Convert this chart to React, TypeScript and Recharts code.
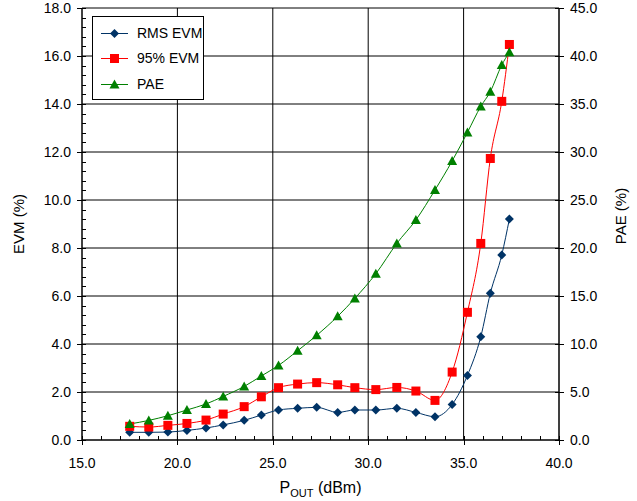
import React from "react";
import {
    LineChart,
    Line,
    XAxis,
    YAxis,
    CartesianGrid,
    Legend
} from "recharts";

// output power (dBm), same points for all three curves
const pout = [17.5, 18.5, 19.5, 20.5, 21.5, 22.4, 23.5, 24.4, 25.3, 26.3, 27.3, 28.4, 29.3, 30.4, 31.5, 32.5, 33.5, 34.4, 35.2, 35.9, 36.4, 37.0, 37.4];
const rmsEvm = [0.32, 0.32, 0.33, 0.40, 0.50, 0.63, 0.82, 1.04, 1.25, 1.32, 1.36, 1.15, 1.25, 1.25, 1.32, 1.15, 0.97, 1.48, 2.69, 4.30, 6.11, 7.71, 9.21];
const evm95 = [0.57, 0.54, 0.61, 0.69, 0.83, 1.08, 1.39, 1.80, 2.18, 2.33, 2.39, 2.30, 2.18, 2.10, 2.19, 2.04, 1.65, 2.83, 5.32, 8.19, 11.73, 14.11, 16.48];
const pae = [1.67, 2.04, 2.53, 3.13, 3.75, 4.54, 5.58, 6.67, 7.77, 9.30, 10.90, 12.88, 14.75, 17.32, 20.48, 22.92, 26.04, 29.06, 32.04, 34.75, 36.28, 39.06, 40.38];

const xMajor = [15, 20, 25, 30, 35, 40];
const evmMajor = [0, 2, 4, 6, 8, 10, 12, 14, 16, 18];
const paeTicks = [0, 5, 10, 15, 20, 25, 30, 35, 40, 45];
const seriesOrder = ["rms", "evm95", "pae"];

// minor ticks: 1 dBm on x, 0.4 % on the EVM axis
const xTicks = Array.from({ length: 26 }, (_, i) => 15 + i);
const evmTicks = Array.from({ length: 46 }, (_, i) => Math.round(i * 4) / 10);

const NAVY = "#003366";
const RED = "#ff0000";
const GREEN = "#008000";
const FONT = "'Liberation Sans', Arial, sans-serif";

const data = pout.map((p, i) => ({
    pout: p,
    rms: rmsEvm[i],
    evm95: evm95[i],
    pae: pae[i]
}));

const isOn = (v: number, list: number[]) => list.some((m) => Math.abs(m - v) < 1e-6);

function Marker({ cx, cy, shape, color }: { cx: number; cy: number; shape: string; color: string }) {
    if (cx == null || cy == null) return null;
    if (shape === "diamond") {
        return <path d={`M${cx},${cy - 4.5}L${cx + 4.5},${cy}L${cx},${cy + 4.5}L${cx - 4.5},${cy}Z`} fill={color} />;
    }
    if (shape === "square") {
        return <rect x={cx - 4.5} y={cy - 4.5} width={9} height={9} fill={color} />;
    }
    return <path d={`M${cx},${cy - 5}L${cx + 5},${cy + 4}L${cx - 5},${cy + 4}Z`} fill={color} />;
}

const shapes: Record<string, string> = { rms: "diamond", evm95: "square", pae: "triangle" };

function XTick(props: any) {
    const { x, y, payload } = props;
    const v = payload.value;
    const px = Math.round(x) + 0.5;
    if (!isOn(v, xMajor)) {
        return <line x1={px} y1={y} x2={px} y2={y - 4} stroke="#000" strokeWidth={1} />;
    }
    return (
        <g>
            <line x1={px} y1={y - 4} x2={px} y2={y + 5} stroke="#000" strokeWidth={1} />
            <text x={x} y={y + 28} textAnchor="middle" fontSize={14} fontFamily={FONT} fill="#000">
                {v.toFixed(1)}
            </text>
        </g>
    );
}

function EvmTick(props: any) {
    const { x, y, payload } = props;
    const v = payload.value;
    const py = Math.round(y) + 0.5;
    if (!isOn(v, evmMajor)) {
        return <line x1={x} y1={py} x2={x + 4} y2={py} stroke="#000" strokeWidth={1} />;
    }
    return (
        <g>
            <line x1={x - 5} y1={py} x2={x + 4} y2={py} stroke="#000" strokeWidth={1} />
            <text x={x - 11} y={y + 5} textAnchor="end" fontSize={14} fontFamily={FONT} fill="#000">
                {v.toFixed(1)}
            </text>
        </g>
    );
}

function PaeTick(props: any) {
    const { x, y, payload } = props;
    const py = Math.round(y) + 0.5;
    return (
        <g>
            <line x1={x - 4} y1={py} x2={x + 5} y2={py} stroke="#000" strokeWidth={1} />
            <text x={x + 11} y={y + 5} textAnchor="start" fontSize={14} fontFamily={FONT} fill="#000">
                {payload.value.toFixed(1)}
            </text>
        </g>
    );
}

function XTitle(props: any) {
    const { x, y, width } = props.viewBox;
    return (
        <text x={x + width / 2} y={y + 53} textAnchor="middle" fontSize={16} fontFamily={FONT} fill="#000">
            P<tspan fontSize={11} dy={4}>OUT</tspan>
            <tspan dy={-4}> (dBm)</tspan>
        </text>
    );
}

function EvmTitle(props: any) {
    const { x, y, height } = props.viewBox;
    const cx = x - 4;
    const cy = y + height / 2;
    return (
        <text x={cx} y={cy} transform={`rotate(-90 ${cx} ${cy})`} textAnchor="middle" dominantBaseline="central" fontSize={15} fontFamily={FONT} fill="#000">
            EVM (%)
        </text>
    );
}

function PaeTitle(props: any) {
    const { x, y, height } = props.viewBox;
    const cx = x + 61;
    const cy = y + height / 2 - 8;
    return (
        <text x={cx} y={cy} transform={`rotate(-90 ${cx} ${cy})`} textAnchor="middle" dominantBaseline="central" fontSize={15} fontFamily={FONT} fill="#000">
            PAE (%)
        </text>
    );
}

function LegendBox(props: any) {
    const items = [...(props.payload || [])].sort(
        (a: any, b: any) => seriesOrder.indexOf(a.dataKey) - seriesOrder.indexOf(b.dataKey)
    );
    return (
        <div style={{ border: "1px solid #000", background: "#fff", width: 110, height: 79, paddingTop: 3, boxSizing: "content-box" }}>
            {items.map((entry: any) => (
                <div key={entry.value} style={{ display: "flex", alignItems: "center", height: 25.5 }}>
                    <svg width={38} height={14} style={{ marginLeft: 6 }}>
                        <line x1={2} y1={7.5} x2={29} y2={7.5} stroke={entry.color} />
                        <Marker cx={15.5} cy={7.5} shape={shapes[entry.dataKey]} color={entry.color} />
                    </svg>
                    <span style={{ fontFamily: FONT, fontSize: 14, color: "#000" }}>{entry.value}</span>
                </div>
            ))}
        </div>
    );
}

export default function App() {
    return (
        <div style={{ position: "absolute", left: 0, top: 0, background: "#fff" }}>
            <LineChart width={637} height={501} data={data} margin={{ top: 8, right: 18, left: 22, bottom: 11 }}>
                <CartesianGrid
                    yAxisId="evm"
                    stroke="#000"
                    strokeWidth={1}
                    horizontalValues={evmMajor}
                    verticalValues={xMajor}
                />
                <XAxis
                    dataKey="pout"
                    type="number"
                    domain={[15, 40]}
                    ticks={xTicks}
                    interval={0}
                    height={50}
                    tickSize={0}
                    tickMargin={0}
                    tickLine={false}
                    axisLine={{ stroke: "#000" }}
                    tick={<XTick />}
                    label={<XTitle />}
                />
                <YAxis
                    yAxisId="evm"
                    type="number"
                    domain={[0, 18]}
                    ticks={evmTicks}
                    interval={0}
                    width={60}
                    tickSize={0}
                    tickMargin={0}
                    tickLine={false}
                    axisLine={{ stroke: "#000" }}
                    tick={<EvmTick />}
                    label={<EvmTitle />}
                />
                <YAxis
                    yAxisId="pae"
                    orientation="right"
                    type="number"
                    domain={[0, 45]}
                    ticks={paeTicks}
                    interval={0}
                    width={60}
                    tickSize={0}
                    tickMargin={0}
                    tickLine={false}
                    axisLine={{ stroke: "#000" }}
                    tick={<PaeTick />}
                    label={<PaeTitle />}
                />
                <Legend
                    layout="vertical"
                    align="center"
                    verticalAlign="middle"
                    content={<LegendBox />}
                    wrapperStyle={{ left: 92, top: 16, width: 112, height: 82 }}
                />
                <Line
                    yAxisId="evm"
                    type="monotone"
                    dataKey="rms"
                    name="RMS EVM"
                    stroke={NAVY}
                    strokeWidth={1}
                    dot={(p: any) => <Marker key={`r${p.index}`} cx={p.cx} cy={p.cy} shape="diamond" color={NAVY} />}
                    activeDot={false}
                    isAnimationActive={false}
                />
                <Line
                    yAxisId="evm"
                    type="monotone"
                    dataKey="evm95"
                    name="95% EVM"
                    stroke={RED}
                    strokeWidth={1}
                    dot={(p: any) => <Marker key={`e${p.index}`} cx={p.cx} cy={p.cy} shape="square" color={RED} />}
                    activeDot={false}
                    isAnimationActive={false}
                />
                <Line
                    yAxisId="pae"
                    type="monotone"
                    dataKey="pae"
                    name="PAE"
                    stroke={GREEN}
                    strokeWidth={1}
                    dot={(p: any) => <Marker key={`p${p.index}`} cx={p.cx} cy={p.cy} shape="triangle" color={GREEN} />}
                    activeDot={false}
                    isAnimationActive={false}
                />
            </LineChart>
        </div>
    );
}
